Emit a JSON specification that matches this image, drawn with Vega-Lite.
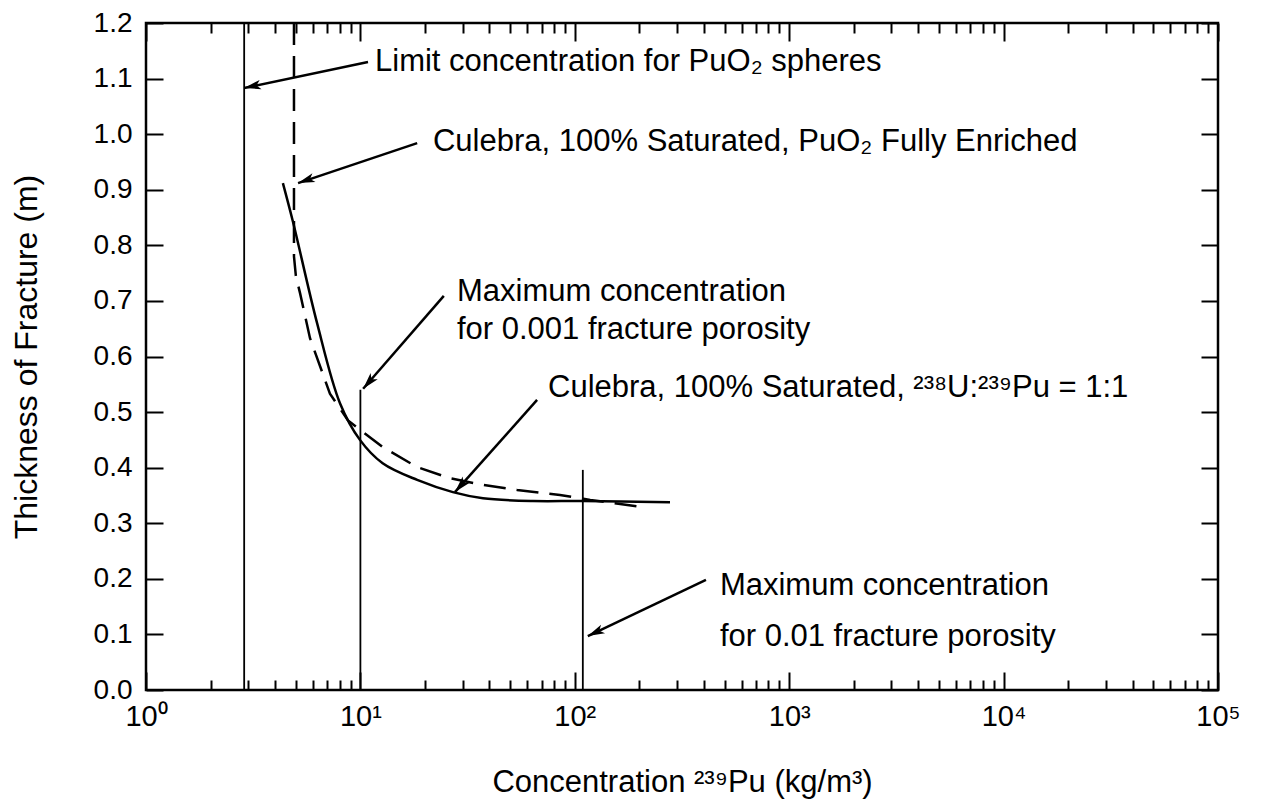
{
  "$schema": "https://vega.github.io/schema/vega-lite/v6.json",
  "width": 1072,
  "height": 667,
  "autosize": {"type": "none"},
  "padding": {"left": 146, "top": 23, "right": 45, "bottom": 111},
  "background": "white",
  "config": {
    "font": "Liberation Sans",
    "view": {"stroke": "#000", "strokeWidth": 2.5},
    "axis": {
      "grid": false, "domain": false, "tickColor": "#000", "tickWidth": 2,
      "labelColor": "#000", "titleColor": "#000", "labelFontSize": 28, "titleFontSize": 31,
      "titleFontWeight": "normal", "labelFont": "Liberation Sans", "titleFont": "Liberation Sans"
    }
  },
  "datasets": {
    "solid": [
      {"i": 1, "x": 4.35, "y": 0.912}, {"i": 2, "x": 4.85, "y": 0.842}, {"i": 3, "x": 6.28, "y": 0.66},
      {"i": 4, "x": 8.03, "y": 0.516}, {"i": 5, "x": 9.95, "y": 0.45}, {"i": 6, "x": 12.7, "y": 0.408},
      {"i": 7, "x": 18.4, "y": 0.378}, {"i": 8, "x": 27.0, "y": 0.356}, {"i": 9, "x": 37.3, "y": 0.345},
      {"i": 10, "x": 63.8, "y": 0.34}, {"i": 11, "x": 109, "y": 0.34}, {"i": 12, "x": 278, "y": 0.338}
    ],
    "dashed": [
      {"i": 1, "x": 4.9, "y": 1.2}, {"i": 2, "x": 4.9, "y": 0.78}, {"i": 3, "x": 5.0, "y": 0.745},
      {"i": 4, "x": 5.23, "y": 0.714}, {"i": 5, "x": 5.82, "y": 0.633}, {"i": 6, "x": 7.21, "y": 0.533},
      {"i": 7, "x": 8.75, "y": 0.485}, {"i": 8, "x": 12.7, "y": 0.437}, {"i": 9, "x": 18.4, "y": 0.401},
      {"i": 10, "x": 26.2, "y": 0.381}, {"i": 11, "x": 37.3, "y": 0.369}, {"i": 12, "x": 53.8, "y": 0.36},
      {"i": 13, "x": 85.3, "y": 0.351}, {"i": 14, "x": 118, "y": 0.342}, {"i": 15, "x": 208, "y": 0.329}
    ],
    "vlines": [
      {"x": 2.87, "y": 0, "y2": 1.2},
      {"x": 10, "y": 0, "y2": 0.54},
      {"x": 109, "y": 0, "y2": 0.396}
    ],
    "arrows": [
      {"id": 1, "x": 10.85, "y": 1.13, "x2": 2.87, "y2": 1.083},
      {"id": 2, "x": 18.4, "y": 0.984, "x2": 5.12, "y2": 0.912},
      {"id": 3, "x": 24.5, "y": 0.709, "x2": 10.3, "y2": 0.542},
      {"id": 4, "x": 66.7, "y": 0.522, "x2": 27.6, "y2": 0.356},
      {"id": 5, "x": 409, "y": 0.198, "x2": 115, "y2": 0.097}
    ],
    "labels": [
      {"text": "Limit concentration for PuO₂ spheres", "x": 11.7, "y": 1.13},
      {"text": "Culebra, 100% Saturated, PuO₂ Fully Enriched", "x": 21.8, "y": 0.986},
      {"text": "Maximum concentration", "x": 28.2, "y": 0.716},
      {"text": "for 0.001 fracture porosity", "x": 28.2, "y": 0.648},
      {"text": "Culebra, 100% Saturated, ²³⁸U:²³⁹Pu = 1:1", "x": 75, "y": 0.543},
      {"text": "Maximum concentration", "x": 475, "y": 0.187},
      {"text": "for 0.01 fracture porosity", "x": 475, "y": 0.095}
    ]
  },
  "layer": [
    {
      "data": {"name": "solid"},
      "mark": {"type": "line", "color": "#000", "strokeWidth": 2.5, "interpolate": "catmull-rom"},
      "encoding": {
        "x": {"field": "x", "type": "quantitative",
          "scale": {"type": "log", "domain": [1, 100000], "nice": false},
          "axis": {
            "orient": "bottom",
            "title": "Concentration ²³⁹Pu (kg/m³)",
            "titlePadding": 28,
            "values": [1,2,3,4,5,6,7,8,9,10,20,30,40,50,60,70,80,90,100,200,300,400,500,600,700,800,900,1000,2000,3000,4000,5000,6000,7000,8000,9000,10000,20000,30000,40000,50000,60000,70000,80000,90000,100000],
            "labelExpr": "abs(log(datum.value)/LN10 - round(log(datum.value)/LN10)) < 0.001 ? ['10⁰','10¹','10²','10³','10⁴','10⁵'][round(log(datum.value)/LN10)] : ''",
            "tickSize": {"condition": {"test": "abs(log(datum.value)/LN10 - round(log(datum.value)/LN10)) < 0.001", "value": -18}, "value": -10},
            "labelPadding": 30,
            "labelFontSize": 29,
            "labelFlush": false,
            "labelOverlap": false
          }
        },
        "y": {"field": "y", "type": "quantitative",
          "scale": {"domain": [0, 1.2], "nice": false, "zero": false},
          "axis": {
            "orient": "left",
            "title": "Thickness of Fracture (m)",
            "titlePadding": 50,
            "titleFontSize": 32,
            "values": [0,0.1,0.2,0.3,0.4,0.5,0.6,0.7,0.8,0.9,1.0,1.1,1.2],
            "format": ".1f",
            "tickSize": -17,
            "labelPadding": 31,
            "labelFlush": false,
            "labelOverlap": false
          }
        },
        "order": {"field": "i", "type": "quantitative"}
      }
    },
    {
      "data": {"name": "dashed"},
      "mark": {"type": "line", "color": "#000", "strokeWidth": 2.5, "strokeDash": [22, 11], "interpolate": "linear"},
      "encoding": {
        "x": {"field": "x", "type": "quantitative",
          "axis": {
            "orient": "top", "title": null, "labels": false,
            "values": [1,2,3,4,5,6,7,8,9,10,20,30,40,50,60,70,80,90,100,200,300,400,500,600,700,800,900,1000,2000,3000,4000,5000,6000,7000,8000,9000,10000,20000,30000,40000,50000,60000,70000,80000,90000,100000],
            "tickSize": {"condition": {"test": "abs(log(datum.value)/LN10 - round(log(datum.value)/LN10)) < 0.001", "value": -18}, "value": -10}
          }
        },
        "y": {"field": "y", "type": "quantitative",
          "axis": {
            "orient": "right", "title": null, "labels": false,
            "values": [0,0.1,0.2,0.3,0.4,0.5,0.6,0.7,0.8,0.9,1.0,1.1,1.2],
            "tickSize": -17
          }
        },
        "order": {"field": "i", "type": "quantitative"}
      }
    },
    {
      "data": {"name": "vlines"},
      "mark": {"type": "rule", "color": "#000", "strokeWidth": 1.8},
      "encoding": {
        "x": {"field": "x", "type": "quantitative", "axis": null},
        "y": {"field": "y", "type": "quantitative", "axis": null},
        "y2": {"field": "y2"}
      }
    },
    {
      "data": {"name": "arrows"},
      "mark": {"type": "rule", "color": "#000", "strokeWidth": 2.5},
      "encoding": {
        "x": {"field": "x", "type": "quantitative", "axis": null},
        "y": {"field": "y", "type": "quantitative", "axis": null},
        "x2": {"field": "x2"},
        "y2": {"field": "y2"}
      }
    },
    {
      "data": {"name": "arrows"},
      "transform": [{"filter": "datum.id == 1"}],
      "mark": {"type": "point", "shape": "M0,0 L0.45,1.6 L0,1.2 L-0.45,1.6 Z", "size": 441, "filled": true, "color": "#000", "opacity": 1, "angle": 258},
      "encoding": {
        "x": {"field": "x2", "type": "quantitative", "axis": null},
        "y": {"field": "y2", "type": "quantitative", "axis": null}
      }
    },
    {
      "data": {"name": "arrows"},
      "transform": [{"filter": "datum.id == 2"}],
      "mark": {"type": "point", "shape": "M0,0 L0.45,1.6 L0,1.2 L-0.45,1.6 Z", "size": 441, "filled": true, "color": "#000", "opacity": 1, "angle": 251},
      "encoding": {
        "x": {"field": "x2", "type": "quantitative", "axis": null},
        "y": {"field": "y2", "type": "quantitative", "axis": null}
      }
    },
    {
      "data": {"name": "arrows"},
      "transform": [{"filter": "datum.id == 3"}],
      "mark": {"type": "point", "shape": "M0,0 L0.45,1.6 L0,1.2 L-0.45,1.6 Z", "size": 441, "filled": true, "color": "#000", "opacity": 1, "angle": 221},
      "encoding": {
        "x": {"field": "x2", "type": "quantitative", "axis": null},
        "y": {"field": "y2", "type": "quantitative", "axis": null}
      }
    },
    {
      "data": {"name": "arrows"},
      "transform": [{"filter": "datum.id == 4"}],
      "mark": {"type": "point", "shape": "M0,0 L0.45,1.6 L0,1.2 L-0.45,1.6 Z", "size": 441, "filled": true, "color": "#000", "opacity": 1, "angle": 222},
      "encoding": {
        "x": {"field": "x2", "type": "quantitative", "axis": null},
        "y": {"field": "y2", "type": "quantitative", "axis": null}
      }
    },
    {
      "data": {"name": "arrows"},
      "transform": [{"filter": "datum.id == 5"}],
      "mark": {"type": "point", "shape": "M0,0 L0.45,1.6 L0,1.2 L-0.45,1.6 Z", "size": 441, "filled": true, "color": "#000", "opacity": 1, "angle": 245},
      "encoding": {
        "x": {"field": "x2", "type": "quantitative", "axis": null},
        "y": {"field": "y2", "type": "quantitative", "axis": null}
      }
    },
    {
      "data": {"name": "labels"},
      "mark": {"type": "text", "align": "left", "baseline": "middle", "fontSize": 31, "color": "#000", "font": "Liberation Sans"},
      "encoding": {
        "x": {"field": "x", "type": "quantitative", "axis": null},
        "y": {"field": "y", "type": "quantitative", "axis": null},
        "text": {"field": "text"}
      }
    }
  ],
  "resolve": {"axis": {"x": "independent", "y": "independent"}}
}
